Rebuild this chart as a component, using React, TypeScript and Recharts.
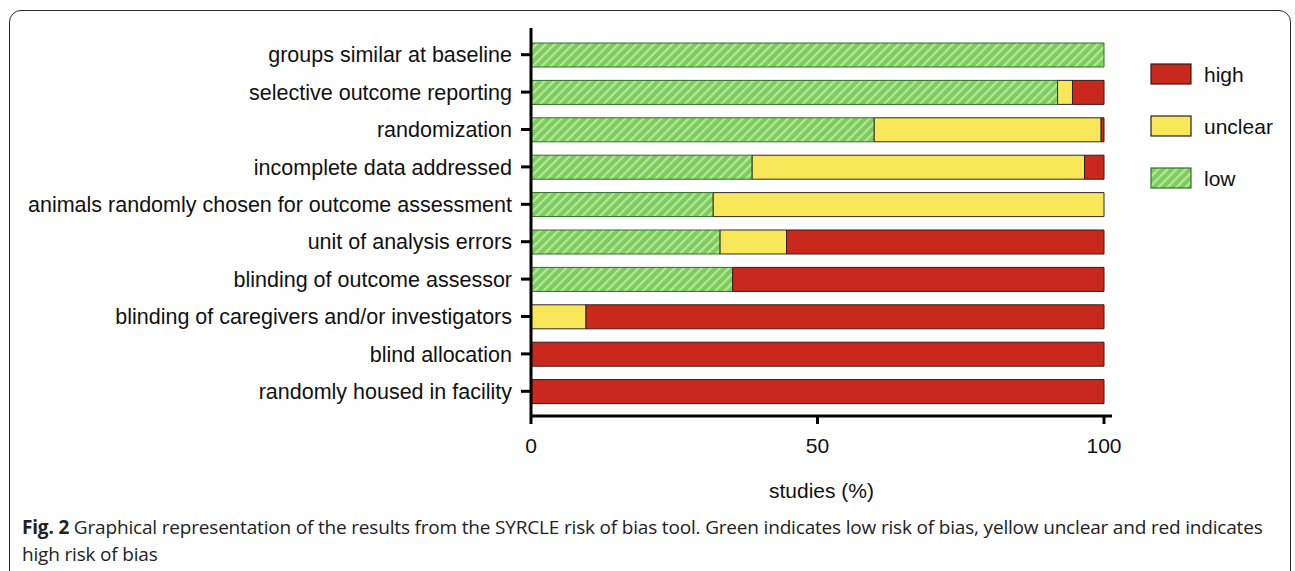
import React from "react";
import { BarChart, Bar, XAxis, YAxis, Legend, Label } from "recharts";

const categories = [
  "groups similar at baseline",
  "selective outcome reporting",
  "randomization",
  "incomplete data addressed",
  "animals randomly chosen for outcome assessment",
  "unit of analysis errors",
  "blinding of outcome assessor",
  "blinding of caregivers and/or investigators",
  "blind allocation",
  "randomly housed in facility",
];
const lowValues = [100, 91.9, 59.9, 38.6, 31.8, 33.0, 35.2, 0, 0, 0];
const unclearValues = [0, 2.6, 39.6, 58.0, 68.2, 11.6, 0, 9.6, 0, 0];
const highValues = [0, 5.5, 0.5, 3.4, 0, 55.4, 64.8, 90.4, 100, 100];
const xTicks = [0, 50, 100];

const data = categories.map((name, i) => ({
  name,
  low: lowValues[i],
  unclear: unclearValues[i],
  high: highValues[i],
}));

const FONT = "'Liberation Sans', Arial, Helvetica, sans-serif";
const RED = "#c9281c";
const YELLOW = "#f9e75a";
const GREEN = "#7ccd5c";
const FS = 21;

const legendItems = [
  { label: "high", fill: RED, stroke: "#3a1a14" },
  { label: "unclear", fill: YELLOW, stroke: "#222" },
  { label: "low", fill: "url(#hatchGreen)", stroke: "#2e6e2a" },
];

const LegendContent = () => (
  <svg width={140} height={140} style={{ overflow: "visible" }}>
    {legendItems.map((it, i) => (
      <g key={it.label} transform={`translate(0, ${i * 52})`}>
        <rect x={1} y={1} width={40} height={20} fill={it.fill} stroke={it.stroke} strokeWidth={1.2} />
        <text x={54} y={18.5} fontSize={FS} fontFamily={FONT} fill="#111">
          {it.label}
        </text>
      </g>
    ))}
  </svg>
);

export default function App() {
  return (
    <div style={{ position: "absolute", left: 0, top: 0, width: 1295, height: 571, background: "#fff", overflow: "hidden" }}>
      <div
        style={{
          position: "absolute",
          left: 9,
          top: 10,
          width: 1282,
          height: 620,
          border: "1.6px solid #2a2a2a",
          borderRadius: 12,
          boxSizing: "border-box",
        }}
      />
      <div style={{ position: "absolute", left: 0, top: 0 }}>
        <BarChart
          width={1295}
          height={571}
          data={data}
          layout="vertical"
          margin={{ top: 28, right: 43, bottom: 70, left: 0 }}
          barSize={24}
        >
          <defs>
            <pattern id="hatchGreen" patternUnits="userSpaceOnUse" width={6.4} height={6.4} patternTransform="rotate(45)">
              <rect x={0} y={0} width={6.4} height={6.4} fill={GREEN} />
              <rect x={0} y={0} width={2.2} height={6.4} fill="#b8e6a0" />
            </pattern>
          </defs>
          <XAxis
            type="number"
            domain={[0, 100]}
            ticks={xTicks}
            padding={{ left: 0, right: 8 }}
            axisLine={{ stroke: "#000", strokeWidth: 3 }}
            tickLine={{ stroke: "#000", strokeWidth: 3 }}
            tickSize={8}
            tickMargin={14}
            tick={{ fontSize: FS, fill: "#111", fontFamily: FONT }}
            height={85}
          >
            <Label value="studies (%)" position="insideBottom" offset={3} style={{ fontSize: FS, fill: "#111", fontFamily: FONT }} />
          </XAxis>
          <YAxis
            type="category"
            dataKey="name"
            width={531}
            padding={{ top: 8, bottom: 6 }}
            axisLine={{ stroke: "#000", strokeWidth: 3 }}
            tickLine={{ stroke: "#000", strokeWidth: 3 }}
            tickSize={10}
            tickMargin={9}
            interval={0}
            tick={{ fontSize: 21.5, fill: "#111", fontFamily: FONT }}
          />
          <Legend
            layout="vertical"
            verticalAlign="top"
            align="right"
            content={<LegendContent />}
            wrapperStyle={{ position: "absolute", left: 1150, top: 63, width: 140 }}
          />
          <Bar dataKey="low" stackId="a" fill="url(#hatchGreen)" stroke="#2e6e2a" strokeWidth={1} isAnimationActive={false} />
          <Bar dataKey="unclear" stackId="a" fill={YELLOW} stroke="#2a2a2a" strokeWidth={1} isAnimationActive={false} />
          <Bar dataKey="high" stackId="a" fill={RED} stroke="#3a1a14" strokeWidth={1} isAnimationActive={false} />
        </BarChart>
      </div>
      <div
        style={{
          position: "absolute",
          left: 22,
          top: 514,
          width: 1265,
          fontFamily: "'Open Sans', sans-serif",
          fontSize: 19,
          lineHeight: "27px",
          color: "#222",
          whiteSpace: "nowrap",
          letterSpacing: -0.18,
        }}
      >
        <b>Fig. 2</b> Graphical representation of the results from the SYRCLE risk of bias tool. Green indicates low risk of bias, yellow unclear and red indicates
        <br />
        high risk of bias
      </div>
    </div>
  );
}
